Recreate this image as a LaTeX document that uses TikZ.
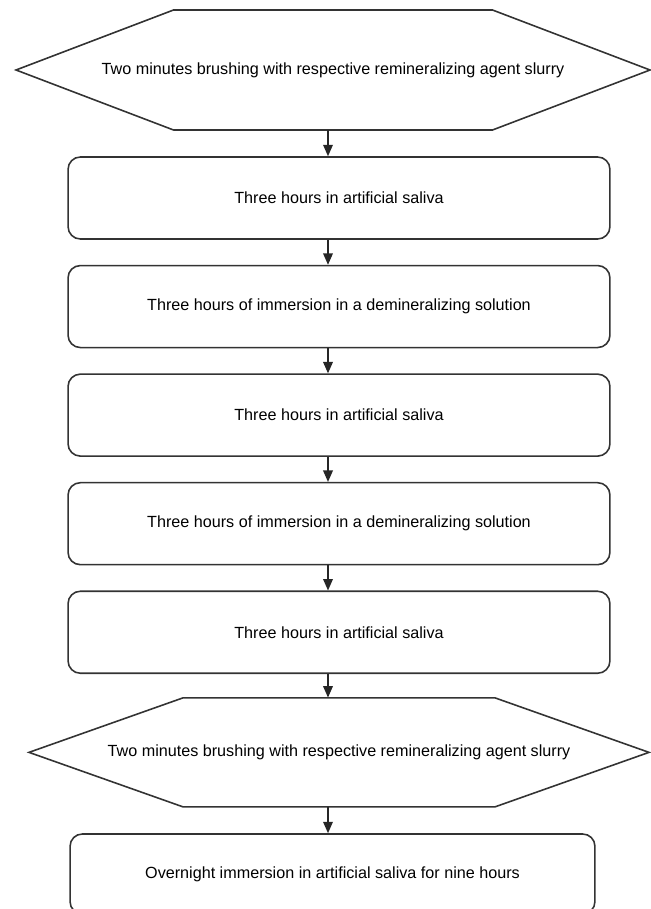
\documentclass[tikz,border=0pt]{standalone}
\usepackage{fontspec}
\setmainfont{Liberation Sans}
\usetikzlibrary{arrows.meta,positioning}

\tikzset{
  stepbox/.style={draw=black!80, line width=0.9pt, rounded corners=7pt,
    minimum width=10.84cm, minimum height=1.64cm, font=\fontsize{9.2}{11}\selectfont},
  hexbox/.style={inner sep=0pt, font=\fontsize{9.2}{11}\selectfont},
  hexline/.style={draw=black!80, line width=0.9pt},
  flow/.style={-{Triangle[length=6.5pt,width=5.5pt]}, line width=0.8pt, black!85},
}

\begin{document}
\begin{tikzpicture}[x=0.02cm, y=-0.02cm]
  \useasboundingbox (0,0) rectangle (651,909);
  \coordinate (spine) at (328,0);

  % first brushing
  \node[hexbox, minimum height=2.4cm] (brushA) at (333,70)
    {Two minutes brushing with respective remineralizing agent slurry};
  \draw[hexline] ([shift={(-159.5,-60)}]brushA.center) -- ([shift={(159.5,-60)}]brushA.center)
    -- ([shift={(317,0)}]brushA.center) -- ([shift={(159.5,60)}]brushA.center)
    -- ([shift={(-159.5,60)}]brushA.center) -- ([shift={(-317,0)}]brushA.center) -- cycle;

  % saliva / demineralizing cycle
  \node[stepbox] (salivaA) at (339,198) {Three hours in artificial saliva};
  \node[stepbox, below=0.5cm of salivaA] (deminA) {Three hours of immersion in a demineralizing solution};
  \node[stepbox, below=0.5cm of deminA] (salivaB) {Three hours in artificial saliva};
  \node[stepbox, below=0.5cm of salivaB] (deminB) {Three hours of immersion in a demineralizing solution};
  \node[stepbox, below=0.5cm of deminB] (salivaC) {Three hours in artificial saliva};

  % second brushing
  \node[hexbox, minimum height=2.18cm, below=0.47cm of salivaC] (brushB)
    {Two minutes brushing with respective remineralizing agent slurry};
  \draw[hexline] ([shift={(-156,-54.5)}]brushB.center) -- ([shift={(156,-54.5)}]brushB.center)
    -- ([shift={(310,0)}]brushB.center) -- ([shift={(156,54.5)}]brushB.center)
    -- ([shift={(-156,54.5)}]brushB.center) -- ([shift={(-310,0)}]brushB.center) -- cycle;

  % overnight
  \node[stepbox, minimum width=10.5cm, minimum height=1.6cm, below=0.52cm of brushB, xshift=-0.13cm] (night)
    {Overnight immersion in artificial saliva for nine hours};

  % arrows
  \draw[flow] (brushA.south -| spine) -- (salivaA.north -| spine);
  \draw[flow] (salivaA.south -| spine) -- (deminA.north -| spine);
  \draw[flow] (deminA.south -| spine) -- (salivaB.north -| spine);
  \draw[flow] (salivaB.south -| spine) -- (deminB.north -| spine);
  \draw[flow] (deminB.south -| spine) -- (salivaC.north -| spine);
  \draw[flow] (salivaC.south -| spine) -- (brushB.north -| spine);
  \draw[flow] (brushB.south -| spine) -- (night.north -| spine);
\end{tikzpicture}
\end{document}
